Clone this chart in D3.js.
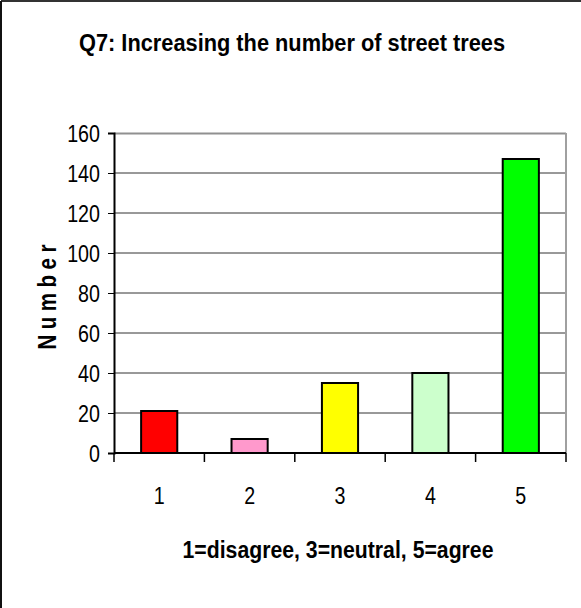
<!DOCTYPE html>
<html>
<head>
	<meta charset="UTF-8">
	<title>Q7 street trees</title>
	<script src="https://d3js.org/d3.v7.min.js"></script>
	<style>
		body { margin: 0; background: #fff; }
		text { font-family: "Liberation Sans Narrow", "Arial Narrow", "Liberation Sans", Arial, sans-serif; }
	</style>
</head>
<body>
	<script>
		// Data
		var categories = ["1", "2", "3", "4", "5"];
		var counts = [21, 7, 35, 40, 147];
		var barColors = ["#ff0000", "#ff99cc", "#ffff00", "#ccffcc", "#00ff00"];
		var yTicks = [0, 20, 40, 60, 80, 100, 120, 140, 160];

		var W = 581, H = 608;
		var NARROW = 0.82; // no narrow font installed, so squeeze the glyphs
		var margin = {top: 133, right: 15, bottom: 155, left: 114},
			width = W - margin.left - margin.right,
			height = H - margin.top - margin.bottom;

		var svg = d3.select("body").append("svg")
			.attr("width", W)
			.attr("height", H);

		// outer frame (only left and top visible)
		svg.append("line").attr("x1", 1).attr("y1", 1).attr("x2", W).attr("y2", 1)
			.attr("stroke", "#333").attr("stroke-width", 2);
		svg.append("line").attr("x1", 1).attr("y1", 1).attr("x2", 1).attr("y2", H)
			.attr("stroke", "#111").attr("stroke-width", 2);

		var x = d3.scaleBand().domain(categories).range([0, width]).paddingInner(0.6).paddingOuter(0.3);
		var xEdge = d3.scaleLinear().domain([0, categories.length]).range([0, width]);
		var y = d3.scaleLinear().domain([0, 160]).range([height, 0]);

		var g = svg.append("g")
			.attr("transform", "translate(" + margin.left + "," + margin.top + ")");

		// gridlines
		g.selectAll(".grid").data(yTicks.filter(function(d) { return d > 0 && d < 160; }))
			.enter().append("line")
			.attr("x1", 0).attr("x2", width)
			.attr("y1", function(d) { return y(d); })
			.attr("y2", function(d) { return y(d); })
			.attr("stroke", "#333").attr("stroke-width", 1);

		// plot frame top/right (gray)
		g.append("line").attr("x1", 0).attr("x2", width).attr("y1", 0.5).attr("y2", 0.5)
			.attr("stroke", "#909090").attr("stroke-width", 2);
		g.append("line").attr("x1", width).attr("x2", width).attr("y1", 0).attr("y2", height)
			.attr("stroke", "#a0a0a0").attr("stroke-width", 2);

		// bars
		g.selectAll(".bar").data(counts).enter().append("rect")
			.attr("x", function(d, i) { return x(categories[i]); })
			.attr("width", x.bandwidth())
			.attr("y", function(d) { return y(d); })
			.attr("height", function(d) { return height - y(d); })
			.attr("fill", function(d, i) { return barColors[i]; })
			.attr("stroke", "#000").attr("stroke-width", 2);

		// y axis
		var yAxis = g.append("g")
			.call(d3.axisLeft(y).tickValues(yTicks).tickSize(6).tickPadding(8));
		yAxis.select(".domain").attr("stroke", "#000").attr("stroke-width", 2);
		yAxis.selectAll(".tick line").attr("stroke", "#000");
		yAxis.selectAll("text")
			.attr("font-size", 24).attr("fill", "#000")
			.attr("x", -14 / NARROW)
			.attr("dy", "0.36em")
			.attr("transform", "scale(" + NARROW + ",1)");

		// x axis: ticks at category boundaries
		var xAx = g.append("g").attr("transform", "translate(0," + height + ")");
		xAx.append("line").attr("x1", 0).attr("x2", width).attr("y1", 0).attr("y2", 0)
			.attr("stroke", "#000").attr("stroke-width", 2);
		xAx.selectAll(".xt").data(d3.range(categories.length + 1)).enter().append("line")
			.attr("x1", function(d) { return xEdge(d); })
			.attr("x2", function(d) { return xEdge(d); })
			.attr("y1", 0).attr("y2", 9)
			.attr("stroke", "#000").attr("stroke-width", 1.5);
		xAx.selectAll(".xl").data(categories).enter().append("g")
			.attr("transform", function(d) { return "translate(" + (x(d) + x.bandwidth() / 2) + ",51) scale(" + NARROW + ",1)"; })
			.append("text")
			.attr("text-anchor", "middle")
			.attr("font-size", 24)
			.text(function(d) { return d; });

		// titles
		svg.append("g").attr("transform", "translate(292,51) scale(" + NARROW + ",1)")
			.append("text")
			.attr("text-anchor", "middle")
			.attr("font-size", 24).attr("font-weight", "bold")
			.attr("textLength", 426 / NARROW).attr("lengthAdjust", "spacingAndGlyphs")
			.text("Q7: Increasing the number of street trees");

		svg.append("g").attr("transform", "translate(338,558) scale(" + NARROW + ",1)")
			.append("text")
			.attr("text-anchor", "middle")
			.attr("font-size", 24).attr("font-weight", "bold")
			.attr("textLength", 311 / NARROW).attr("lengthAdjust", "spacingAndGlyphs")
			.text("1=disagree, 3=neutral, 5=agree");

		svg.append("g").attr("transform", "translate(56,297) rotate(-90) scale(" + NARROW + ",1)")
			.append("text")
			.attr("text-anchor", "middle")
			.attr("font-size", 25).attr("font-weight", "bold")
			.attr("textLength", 128).attr("lengthAdjust", "spacing")
			.text("Number");
	</script>
</body>
</html>
